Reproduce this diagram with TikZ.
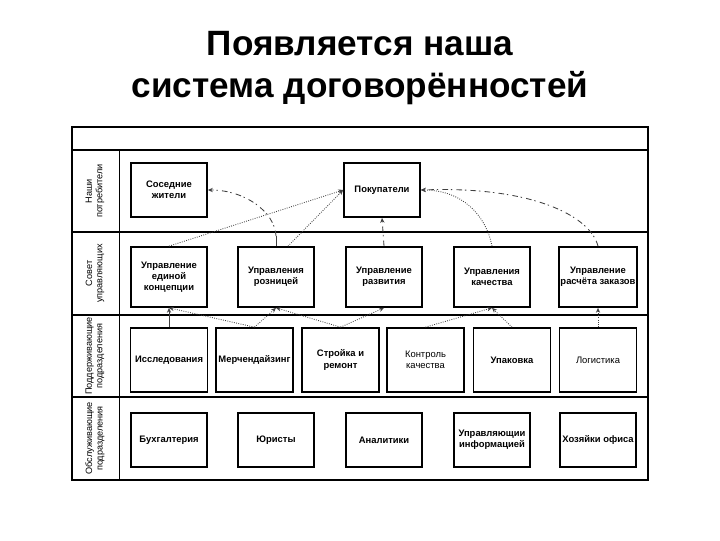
\documentclass[tikz,border=0pt]{standalone}
\usepackage{fontspec}
\setmainfont{Liberation Sans}
\usetikzlibrary{arrows.meta}

\tikzset{
  unit/.style={draw, line width=1.2pt, align=center, inner sep=1pt,
    minimum width=1.9cm, minimum height=1.35cm,
    font=\fontsize{6.7}{8}\selectfont\bfseries},
  plainunit/.style={unit, font=\fontsize{6.7}{8}\selectfont},
  rowlabel/.style={rotate=90, align=center, font=\fontsize{6.5}{7.4}\selectfont},
  frame/.style={line width=1.5pt},
  link/.style={densely dotted, semithick, black!75,
    -{Stealth[length=3.5pt,width=3pt,fill=black!55!blue!60]}},
  dashlink/.style={link, dash pattern=on 4pt off 3pt on 1pt off 2pt}
}

\begin{document}
\begin{tikzpicture}[x=0.025cm, y=-0.025cm]
\useasboundingbox [fill=white] (0,0) rectangle (720,540);

% title
\node (title) [align=center, font=\fontsize{25}{29.5}\selectfont\bfseries] at (360,68)
  {Появляется наша\\система договорённостей};

% frame
\draw [frame] (72,127) rectangle (648,480);
\draw [frame] (72,150) -- (648,150);
\draw [frame] (72,232) -- (648,232);
\draw [frame] (72,315) -- (648,315);
\draw [frame] (72,397) -- (648,397);
\draw [semithick] (119,150) -- (119,480);

% row labels
\node (lab1) [rowlabel] at (95,191) {Наши\\потребители};
\node (lab2) [rowlabel] at (95,273.5) {Совет\\управляющих};
\node (lab3) [rowlabel] at (95,356) {Поддерживающие\\подразделения};
\node (lab4) [rowlabel] at (95,438.5) {Обслуживающие\\подразделения};

% consumers
\node (sos) [unit] at (169,190) {Соседние\\жители};
\node (pok) [unit] at (382,190) {Покупатели};

% board
\node (konc)  [unit, minimum height=1.5cm] at (169,277) {Управление\\единой\\концепции};
\node (rozn)  [unit, minimum height=1.5cm] at (276,277) {Управления\\розницей};
\node (razv)  [unit, minimum height=1.5cm] at (384,277) {Управление\\развития};
\node (kach)  [unit, minimum height=1.5cm] at (492,277) {Управления\\качества};
\node (rasch) [unit, minimum height=1.5cm] at (598,277) {Управление\\расчёта заказов};

% supporting units
\node (issl)  [unit, minimum height=1.6cm, minimum width=1.92cm] at (169,360) {Исследования};
\node (merch) [unit, minimum height=1.6cm, minimum width=1.92cm] at (254.5,360) {Мерчендайзинг};
\node (stroi) [unit, minimum height=1.6cm, minimum width=1.92cm] at (340.5,360) {Стройка и\\ремонт};
\node (kontr) [plainunit, minimum height=1.6cm, minimum width=1.92cm] at (425.5,360) {Контроль\\качества};
\node (upak)  [unit, minimum height=1.6cm, minimum width=1.92cm] at (512,360) {Упаковка};
\node (logi)  [plainunit, minimum height=1.6cm, minimum width=1.92cm] at (598,360) {Логистика};

% service units
\node (buh)  [unit] at (169,440) {Бухгалтерия};
\node (jur)  [unit] at (276,440) {Юристы};
\node (anal) [unit] at (384,440) {Аналитики};
\node (info) [unit] at (492,440) {Управляющии\\информацией};
\node (hoz)  [unit] at (598,440) {Хозяйки офиса};

% board -> consumers
\draw [link] (konc.north) -- (pok.west);
\draw [semithick, black!75] (rozn.north) -- ++(0,-10) coordinate (roznup);
\draw [dashlink] (roznup) .. controls (275,212) and (245,190) .. (sos.east);
\draw [link] ([xshift=0.3cm]rozn.north) -- (pok.west);
\draw [dashlink] (razv.north) -- (pok.south);
\draw [link] (kach.north) .. controls (486,215) and (462,190) .. (pok.east);
\draw [dashlink] (rasch.north) .. controls (590,215) and (530,186) .. (pok.east);

% supporting -> board
\draw [link, solid] (issl.north) -- (konc.south);
\draw [link] (merch.north) -- (konc.south);
\draw [link] (merch.north) -- (rozn.south);
\draw [link] (stroi.north) -- (rozn.south);
\draw [link] (stroi.north) -- (razv.south);
\draw [link] (kontr.north) -- (kach.south);
\draw [link] (upak.north) -- (kach.south);
\draw [link] (logi.north) -- (rasch.south);

\end{tikzpicture}
\end{document}
